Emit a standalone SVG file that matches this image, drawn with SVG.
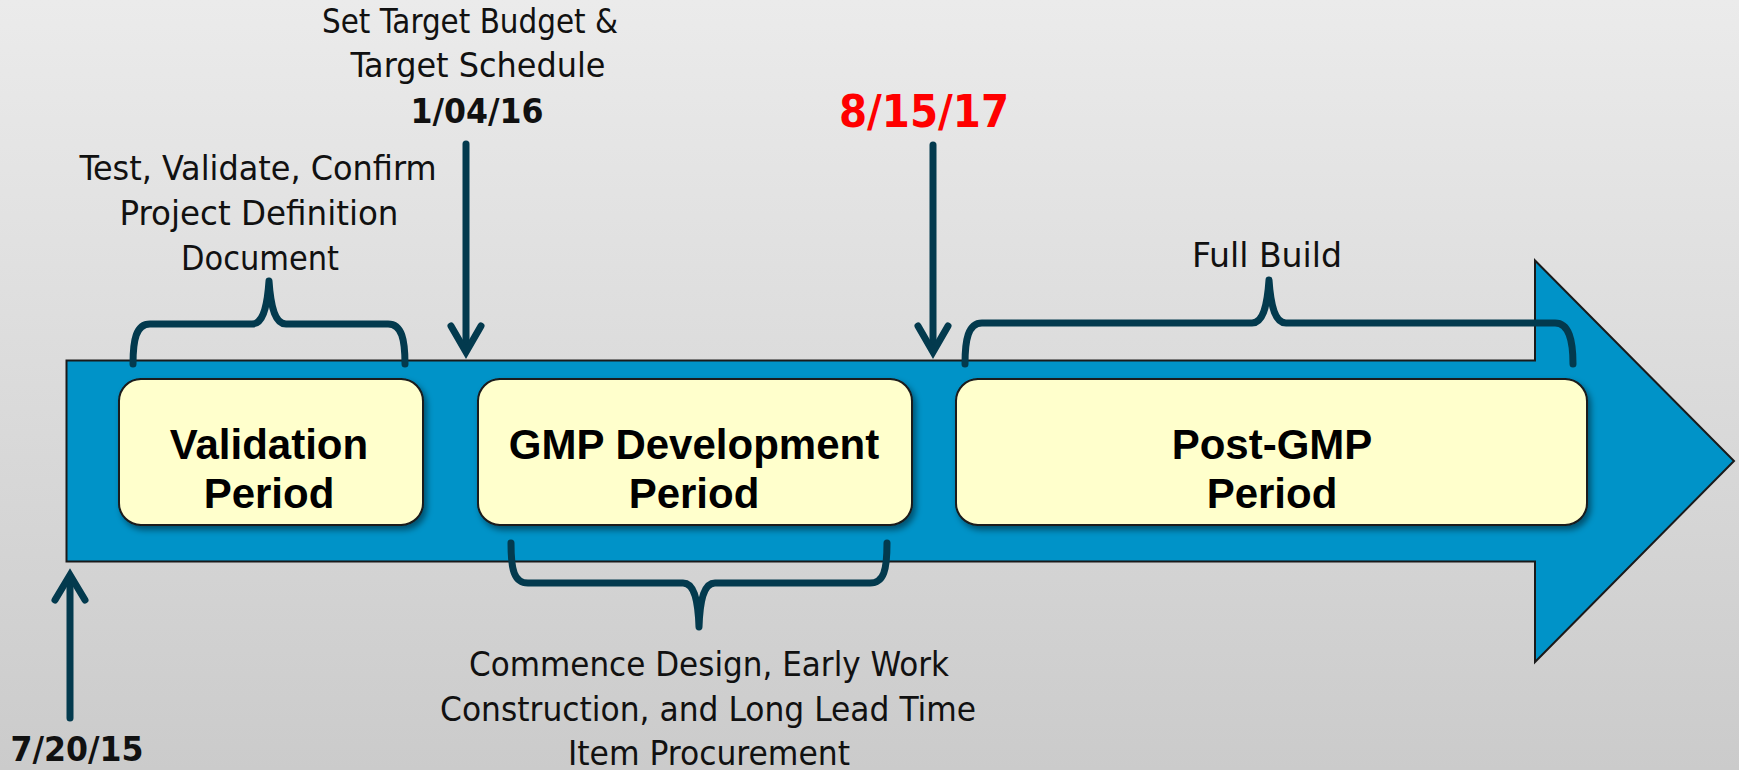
<svg xmlns="http://www.w3.org/2000/svg" width="1739" height="770" viewBox="0 0 1739 770">
  <defs>
    <linearGradient id="bg" x1="0" y1="0" x2="0" y2="1">
      <stop offset="0" stop-color="#ebebeb"/>
      <stop offset="1" stop-color="#cbcbcb"/>
    </linearGradient>
    <filter id="shadow" x="-10%" y="-10%" width="125%" height="130%">
      <feDropShadow dx="3" dy="4" stdDeviation="3" flood-color="#000" flood-opacity="0.45"/>
    </filter>
    <style>
      .lbl { font-family: "DejaVu Sans", "Liberation Sans", sans-serif; font-stretch: condensed; font-size: 34px; fill: #111; text-anchor: middle; }
      .date { font-family: "DejaVu Sans", "Liberation Sans", sans-serif; font-stretch: condensed; font-weight: bold; font-size: 34px; fill: #111; text-anchor: middle; }
      .red { fill: #ff0000; font-size: 45px; }
      .box { fill: #ffffcc; stroke: #1a1a1a; stroke-width: 2; filter: url(#shadow); }
      .boxtxt { font-family: "Liberation Sans", Arial, sans-serif; font-weight: bold; font-size: 42px; fill: #000; text-anchor: middle; }
      .ln { fill: none; stroke: #033a4e; stroke-width: 7; stroke-linejoin: round; stroke-linecap: round; }
      .ln2 { fill: none; stroke: #033a4e; stroke-width: 7; stroke-linejoin: miter; stroke-miterlimit: 10; stroke-linecap: round; }
    </style>
  </defs>
  <rect x="0" y="0" width="1739" height="770" fill="url(#bg)"/>

  <g id="timeline-arrow">
    <polygon points="66.5,360.5 1535,360.5 1535,260.5 1734,461 1535,662 1535,561.5 66.5,561.5" fill="#0093c8" stroke="#1a1a1a" stroke-width="2"/>
  </g>

  <g id="validation-period">
    <rect class="box" x="119" y="379" width="304" height="146" rx="22"/>
    <text class="boxtxt" x="269" y="459">Validation</text>
    <text class="boxtxt" x="269" y="508">Period</text>
  </g>

  <g id="gmp-development-period">
    <rect class="box" x="478" y="379" width="434" height="146" rx="22"/>
    <text class="boxtxt" x="694" y="459">GMP Development</text>
    <text class="boxtxt" x="694" y="508">Period</text>
  </g>

  <g id="post-gmp-period">
    <rect class="box" x="956" y="379" width="631" height="146" rx="22"/>
    <text class="boxtxt" x="1272" y="459">Post-GMP</text>
    <text class="boxtxt" x="1272" y="508">Period</text>
  </g>

  <g id="connectors">
    <!-- 1/04/16 arrow -->
    <path class="ln" d="M466,144 L466,350"/>
    <path class="ln2" d="M451,326 L466,352 L481,326"/>
    <!-- 8/15/17 arrow -->
    <path class="ln" d="M933,145 L933,350"/>
    <path class="ln2" d="M918,326 L933,352 L948,326"/>
    <!-- 7/20/15 arrow -->
    <path class="ln" d="M70,718 L70,580"/>
    <path class="ln2" d="M55,600 L70,575 L85,600"/>
    <!-- brackets -->
    <path class="ln" d="M133,364 C133,340 136,324 150,324 L252,324 C262,324 267,310 269,281 C271,310 276,324 286,324 L388,324 C402,324 405,340 405,364"/>
    <path class="ln" d="M965,364 C965,340 968,323 982,323 L1252,323 C1262,323 1267,309 1269,280 C1271,309 1276,323 1286,323 L1555,323 C1569,323 1573,340 1573,364"/>
    <path class="ln" d="M511,543 C511,570 514,583 528,583 L683,583 C693,583 698,597 699,627 C700,597 705,583 715,583 L870,583 C884,583 887,570 887,543"/>
  </g>

  <g id="label-target">
    <text class="lbl" x="470" y="33" textLength="296" lengthAdjust="spacingAndGlyphs">Set Target Budget &amp;</text>
    <text class="lbl" x="478" y="77" textLength="255" lengthAdjust="spacingAndGlyphs">Target Schedule</text>
    <text class="date" x="477" y="123" textLength="133" lengthAdjust="spacingAndGlyphs">1/04/16</text>
  </g>

  <g id="label-validate">
    <text class="lbl" x="258" y="180" textLength="357" lengthAdjust="spacingAndGlyphs">Test, Validate, Confirm</text>
    <text class="lbl" x="259" y="225" textLength="279" lengthAdjust="spacingAndGlyphs">Project Definition</text>
    <text class="lbl" x="260" y="270" textLength="158" lengthAdjust="spacingAndGlyphs">Document</text>
  </g>

  <g id="label-gmp-date">
    <text class="date red" x="924" y="127" textLength="170" lengthAdjust="spacingAndGlyphs">8/15/17</text>
  </g>

  <g id="label-full-build">
    <text class="lbl" x="1267" y="267" textLength="150" lengthAdjust="spacingAndGlyphs">Full Build</text>
  </g>

  <g id="label-commence">
    <text class="lbl" x="709" y="676" textLength="480" lengthAdjust="spacingAndGlyphs">Commence Design, Early Work</text>
    <text class="lbl" x="708" y="721" textLength="536" lengthAdjust="spacingAndGlyphs">Construction, and Long Lead Time</text>
    <text class="lbl" x="709" y="765" textLength="282" lengthAdjust="spacingAndGlyphs">Item Procurement</text>
  </g>

  <g id="label-start-date">
    <text class="date" x="77" y="761" textLength="133" lengthAdjust="spacingAndGlyphs">7/20/15</text>
  </g>
</svg>
